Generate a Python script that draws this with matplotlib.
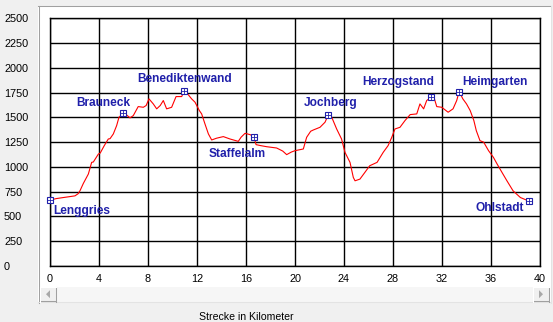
import matplotlib
matplotlib.use("Agg")
import matplotlib.pyplot as plt
from matplotlib.patches import Rectangle, Polygon
from matplotlib.lines import Line2D

# elevation profile (km, m)
strecke_km = [0.0, 0.5, 1.09, 1.6, 2.04, 2.3, 2.45, 2.72, 3.13, 3.4, 3.54, 3.95, 4.1, 4.43,
              4.76, 4.9, 5.17, 5.44, 5.63, 5.98, 6.2, 6.53, 6.8, 7.2, 7.62, 7.85, 8.08, 8.43,
              8.71, 9.0, 9.25, 9.52, 9.93, 10.29, 10.75, 10.97, 11.29, 11.56, 11.84, 12.19,
              12.38, 12.65, 12.93, 13.2, 13.6, 14.15, 14.69, 15.37, 15.6, 15.92, 16.33, 16.65,
              16.82, 17.2, 17.69, 18.5, 19.0, 19.32, 19.7, 20.0, 20.68, 20.95, 21.28, 21.5,
              22.04, 22.45, 22.72, 23.0, 23.4, 23.8, 24.08, 24.49, 24.76, 24.9, 25.3, 25.7,
              26.1, 26.7, 27.2, 27.6, 27.9, 28.16, 28.57, 28.98, 29.4, 29.94, 30.2, 30.5,
              30.75, 31.1, 31.3, 31.57, 31.98, 32.5, 32.9, 33.2, 33.4, 33.7, 34.0, 34.3,
              34.6, 34.8, 35.1, 35.4, 35.8, 36.2, 36.5, 36.9, 37.3, 37.8, 38.4, 39.1]
hoehe_m = [665, 680, 691, 700, 708, 730, 760, 833, 928, 1046, 1050, 1130, 1140, 1215,
           1282, 1285, 1333, 1417, 1501, 1541, 1530, 1495, 1518, 1609, 1602, 1620, 1687, 1636,
           1586, 1620, 1670, 1586, 1602, 1710, 1710, 1771, 1728, 1687, 1653, 1569,
           1535, 1434, 1333, 1272, 1290, 1306, 1282, 1258, 1300, 1339, 1326, 1306,
           1225, 1215, 1204, 1191, 1160, 1124, 1150, 1164, 1181, 1299, 1360, 1373,
           1400, 1451, 1525, 1501, 1383, 1282, 1147, 1046, 894, 860, 877, 944,
           1012, 1046, 1147, 1215, 1299, 1383, 1400, 1468, 1528, 1535, 1636, 1586,
           1670, 1703, 1721, 1609, 1602, 1552, 1586, 1670, 1761, 1687, 1636, 1569,
           1468, 1366, 1265, 1250, 1164, 1096, 1029, 944, 860, 759, 691, 655]

# waypoints
orte = ["Lenggries", "Brauneck", "Benediktenwand", "Staffelalm", "Jochberg",
        "Herzogstand", "Heimgarten", "Ohlstadt"]
orte_km = [0.0, 5.98, 10.97, 16.65, 22.72, 31.1, 33.4, 39.1]
orte_m = [665, 1541, 1771, 1306, 1525, 1703, 1761, 655]

# label offsets in pixels (left edge, vertical centre) relative to marker
label_offsets = [(3, -11), (-47, 10), (-47, 12), (-45, -17), (-25, 12),
                 (-69, 15), (3, 10), (-53, -7)]

x_ticks = list(range(0, 41, 4))
y_ticks = list(range(0, 2501, 250))

W, H = 553, 322
BLUE = "#2020aa"
plt.rcParams['font.family'] = ['Liberation Sans', 'DejaVu Sans']

fig = plt.figure(figsize=(W / 100, H / 100), dpi=100, facecolor="#f0f0f0")


def fx(x):
    return x / W


def fy(y):
    return 1 - y / H


def rect(x0, y0, x1, y1, **kw):
    fig.add_artist(Rectangle((fx(x0), fy(y1)), fx(x1) - fx(x0), fy(y0) - fy(y1),
                             transform=fig.transFigure, **kw))


def hline(x0, x1, y, c):
    fig.add_artist(Line2D([fx(x0), fx(x1)], [fy(y), fy(y)], color=c, lw=0.75,
                          transform=fig.transFigure))


def vline(x, y0, y1, c):
    fig.add_artist(Line2D([fx(x), fx(x)], [fy(y0), fy(y1)], color=c, lw=0.75,
                          transform=fig.transFigure))


# white panel with sunken border
rect(38, 6, 551, 302.5, facecolor="white", edgecolor="none", zorder=0)
hline(38, 551, 6.3, "#a0a0a0")
vline(38.5, 6, 302.5, "#a0a0a0")
vline(550.6, 6, 302.5, "#e3e3e3")
hline(38, 551, 302.3, "#e3e3e3")

# scrollbar
rect(40, 287, 549, 301.5, facecolor="#f6f6f6", edgecolor="none")
for bx0, direction in [(40, -1), (533, 1)]:
    rect(bx0, 287, bx0 + 16, 301.5, facecolor="#f0f0f0", edgecolor="none")
    hline(bx0, bx0 + 16, 301.2, "#a0a0a0")
    vline(bx0 + 15.7, 287, 301.5, "#a0a0a0")
    hline(bx0, bx0 + 16, 287.3, "#ffffff")
    vline(bx0 + 0.3, 287, 301.5, "#ffffff")
    cx, cy = bx0 + 8, 294.2
    tri = [(fx(cx + 2 * direction), fy(cy)), (fx(cx - 2 * direction), fy(cy - 4)),
           (fx(cx - 2 * direction), fy(cy + 4))]
    fig.add_artist(Polygon(tri, closed=True, transform=fig.transFigure,
                           facecolor="#a8a8a8", edgecolor="none"))

ax = fig.add_axes([fx(50), fy(266), fx(540) - fx(50), fy(18.3) - fy(266)])
ax.set_facecolor("white")
ax.set_xlim(0, 40)
ax.set_ylim(0, 2500)
ax.set_xticks(x_ticks)
ax.set_yticks(y_ticks)
ax.set_xticklabels([str(t) for t in x_ticks], fontsize=7.8)
ax.set_yticklabels([str(t) for t in y_ticks], fontsize=7.8)
for lab in ax.get_yticklabels():
    lab.set_horizontalalignment("left")
ax.tick_params(axis="y", length=0, pad=33.1)
ax.tick_params(axis="x", length=0, pad=5.5)
ax.grid(True, color="black", lw=1.0)
ax.set_axisbelow(True)
for s in ax.spines.values():
    s.set_color("black")
    s.set_linewidth(1.0)

ax.plot(strecke_km, hoehe_m, color="#ff0000", lw=0.8, zorder=3)

ax.plot(orte_km, orte_m, "s", mfc="white", mec=BLUE, ms=4.4, mew=0.8, zorder=4, clip_on=False)
ax.plot(orte_km, orte_m, "+", color=BLUE, ms=4.4, mew=0.6, zorder=5, clip_on=False)

for name, k, m, (dx, dy) in zip(orte, orte_km, orte_m, label_offsets):
    ax.annotate(name, (k, m), xytext=(dx, dy), textcoords="offset pixels",
                ha="left", va="center", fontsize=8.6, fontweight="bold", color=BLUE,
                zorder=6)

fig.text(fx(246), fy(316.5), "Strecke in Kilometer", ha="center", va="center",
         fontsize=7.6, color="black")

fig.savefig("out.png", dpi=100, facecolor=fig.get_facecolor())
